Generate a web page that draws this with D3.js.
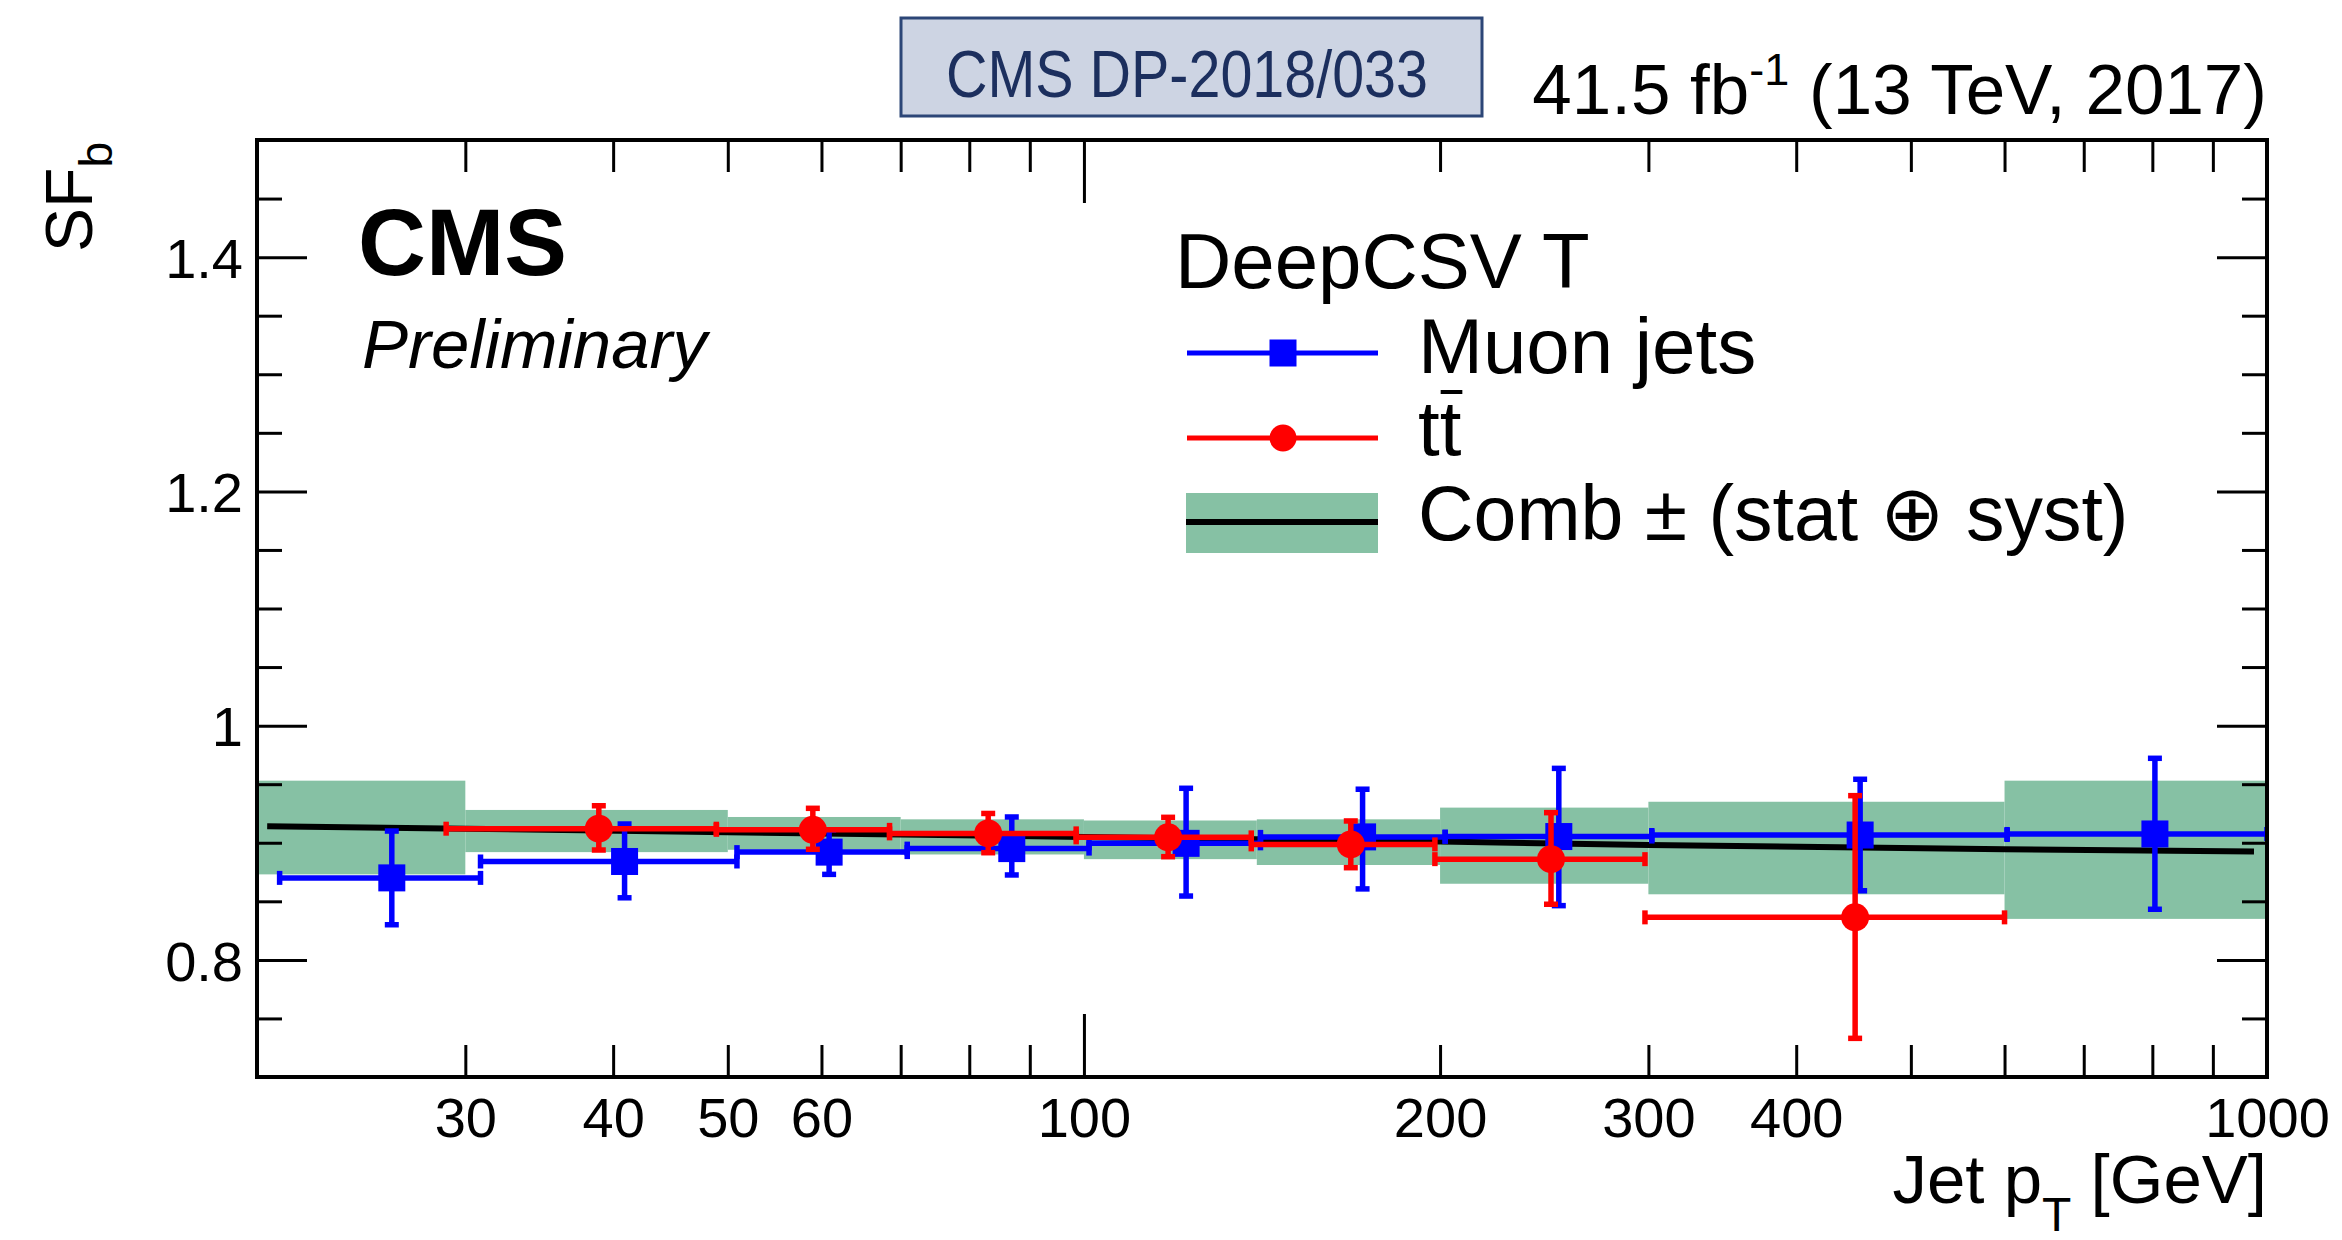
<!DOCTYPE html>
<html>
<head>
<meta charset="utf-8">
<script src="https://cdn.jsdelivr.net/npm/d3@7"></script>
<style>
  body { margin: 0; background: #fff; }
  svg { display: block; }
  text { font-family: "Liberation Sans", Arial, Helvetica, sans-serif; }
</style>
</head>
<body>
<div id="chart"></div>
<script>
var width = 2342;
var height = 1240;

// axis ticks
var xTicks = [30, 40, 50, 60, 70, 80, 90, 100, 200, 300, 400, 500, 600, 700, 800, 900, 1000];
var xLabels = [30, 40, 50, 60, 100, 200, 300, 400, 1000];
var xMajor = [100, 1000];
var yTicks = [0.75, 0.8, 0.85, 0.9, 0.95, 1, 1.05, 1.1, 1.15, 1.2, 1.25, 1.3, 1.35, 1.4, 1.45];
var yMajor = [0.8, 1, 1.2, 1.4];

// combined SF: band per pT bin + fit line
var combEdges = [20, 30, 50, 70, 100, 140, 200, 300, 600, 1000];
var combHi = [0.953, 0.928, 0.922, 0.920, 0.919, 0.920, 0.930, 0.935, 0.953];
var combLo = [0.873, 0.892, 0.894, 0.890, 0.886, 0.881, 0.865, 0.856, 0.835];
var fitPt = [20.4, 30, 50, 70, 100, 140, 200, 300, 600, 975];
var fitSF = [0.914, 0.912, 0.909, 0.907, 0.905, 0.903, 0.901, 0.898, 0.8945, 0.8925];

// muon jets
var muPt   = [26.0, 40.9, 60.9, 86.9, 122, 172, 252, 453, 804];
var muPtLo = [20.9, 30.9, 50.9, 70.9, 101, 141, 202, 302, 603];
var muPtHi = [30.9, 50.9, 70.9, 101, 141, 202, 302, 603, 1000];
var muSF   = [0.870, 0.884, 0.892, 0.895, 0.8995, 0.905, 0.9053, 0.9066, 0.9075];
var muUp   = [0.910, 0.916, 0.911, 0.922, 0.9465, 0.9457, 0.9635, 0.9542, 0.9721];
var muDn   = [0.830, 0.853, 0.873, 0.8725, 0.8545, 0.8606, 0.8463, 0.859, 0.8432];

// ttbar
var ttPt   = [38.9, 59.0, 83.0, 117.8, 168.1, 248.2, 448.6];
var ttPtLo = [28.9, 48.9, 68.5, 98.5, 138.5, 198, 298];
var ttPtHi = [48.9, 68.5, 98.5, 138.5, 198, 298, 600];
var ttSF   = [0.912, 0.911, 0.908, 0.9046, 0.8986, 0.886, 0.8363];
var ttUp   = [0.9316, 0.9294, 0.925, 0.9217, 0.9186, 0.9257, 0.9402];
var ttDn   = [0.8938, 0.8944, 0.8915, 0.8881, 0.8787, 0.8475, 0.733];

var L = 257, R = 2267, T = 140, B = 1077;

var x = d3.scaleLog().domain([20, 1000]).range([L, R]);
var y = d3.scaleLinear().domain([0.7, 1.5]).range([B, T]);

var svg = d3.select("#chart").append("svg")
	.attr("width", width)
	.attr("height", height);

svg.append("defs").append("clipPath").attr("id", "plotclip")
	.append("rect").attr("x", L).attr("y", T).attr("width", R - L).attr("height", B - T);

var plot = svg.append("g").attr("clip-path", "url(#plotclip)");

// green band
plot.selectAll("rect.band")
	.data(combHi)
	.enter()
	.append("rect")
	.attr("x", function (d, i) { return x(combEdges[i]); })
	.attr("width", function (d, i) { return x(combEdges[i + 1]) - x(combEdges[i]); })
	.attr("y", function (d) { return y(d); })
	.attr("height", function (d, i) { return y(combLo[i]) - y(d); })
	.attr("fill", "#86c1a4");

// fit line
var line = d3.line()
	.x(function (d, i) { return x(fitPt[i]); })
	.y(function (d) { return y(d); });
plot.append("path")
	.attr("d", line(fitSF))
	.attr("fill", "none")
	.attr("stroke", "black")
	.attr("stroke-width", 6);

function drawSeries(pt, lo, hi, sf, up, dn, color, marker) {
	var data = pt.map(function (p, i) {
		return { p: p, lo: lo[i], hi: hi[i], v: sf[i], up: up[i], dn: dn[i] };
	});
	var g = plot.append("g");
	var pts = g.selectAll("g").data(data).enter().append("g")
		.attr("stroke", color).attr("stroke-width", 5.5).attr("fill", color);
	pts.append("line") // x error
		.attr("x1", function (d) { return x(d.lo); })
		.attr("x2", function (d) { return x(d.hi); })
		.attr("y1", function (d) { return y(d.v); })
		.attr("y2", function (d) { return y(d.v); });
	pts.append("line") // y error
		.attr("x1", function (d) { return x(d.p); })
		.attr("x2", function (d) { return x(d.p); })
		.attr("y1", function (d) { return y(d.up); })
		.attr("y2", function (d) { return y(d.dn); });
	// end caps
	["lo", "hi"].forEach(function (k) {
		pts.append("line")
			.attr("x1", function (d) { return x(d[k]); })
			.attr("x2", function (d) { return x(d[k]); })
			.attr("y1", function (d) { return y(d.v) - 7; })
			.attr("y2", function (d) { return y(d.v) + 7; });
	});
	["up", "dn"].forEach(function (k) {
		pts.append("line")
			.attr("x1", function (d) { return x(d.p) - 7; })
			.attr("x2", function (d) { return x(d.p) + 7; })
			.attr("y1", function (d) { return y(d[k]); })
			.attr("y2", function (d) { return y(d[k]); });
	});
	if (marker === "square") {
		pts.append("rect")
			.attr("stroke", "none")
			.attr("x", function (d) { return x(d.p) - 13.5; })
			.attr("y", function (d) { return y(d.v) - 13.5; })
			.attr("width", 27).attr("height", 27);
	} else {
		pts.append("circle")
			.attr("stroke", "none")
			.attr("cx", function (d) { return x(d.p); })
			.attr("cy", function (d) { return y(d.v); })
			.attr("r", 14);
	}
}

drawSeries(muPt, muPtLo, muPtHi, muSF, muUp, muDn, "#0000ff", "square");
drawSeries(ttPt, ttPtLo, ttPtHi, ttSF, ttUp, ttDn, "#ff0000", "circle");

// axes
var fontFam = '"Liberation Sans", Arial, Helvetica, sans-serif';

var xBottom = svg.append("g").attr("transform", "translate(0," + B + ")")
	.call(d3.axisBottom(x).tickValues(xTicks).tickSize(-32)
		.tickFormat(function (d) { return xLabels.indexOf(d) >= 0 ? d : ""; }));
xBottom.selectAll(".tick line").attr("y2", function (d) { return xMajor.indexOf(d) >= 0 ? -63 : -32; });
xBottom.selectAll(".tick text").attr("y", 60).attr("dy", null)
	.attr("font-size", 56).attr("font-family", fontFam);

var xTop = svg.append("g").attr("transform", "translate(0," + T + ")")
	.call(d3.axisTop(x).tickValues(xTicks).tickSize(-32).tickFormat(""));
xTop.selectAll(".tick line").attr("y2", function (d) { return xMajor.indexOf(d) >= 0 ? 63 : 32; });

var yLeft = svg.append("g").attr("transform", "translate(" + L + ",0)")
	.call(d3.axisLeft(y).tickValues(yTicks).tickSize(-25)
		.tickFormat(function (d) { return yMajor.indexOf(d) >= 0 ? String(d) : ""; }));
yLeft.selectAll(".tick line").attr("x2", function (d) { return yMajor.indexOf(d) >= 0 ? 50 : 25; });
yLeft.selectAll(".tick text").attr("x", -14).attr("dy", "0.36em")
	.attr("font-size", 56).attr("font-family", fontFam);

var yRight = svg.append("g").attr("transform", "translate(" + R + ",0)")
	.call(d3.axisRight(y).tickValues(yTicks).tickSize(-25).tickFormat(""));
yRight.selectAll(".tick line").attr("x2", function (d) { return yMajor.indexOf(d) >= 0 ? -50 : -25; });

[xBottom, xTop, yLeft, yRight].forEach(function (a) {
	a.select(".domain").remove();
	a.selectAll(".tick line").attr("stroke", "black").attr("stroke-width", 3);
});

// frame
svg.append("rect")
	.attr("x", L).attr("y", T).attr("width", R - L).attr("height", B - T)
	.attr("fill", "none").attr("stroke", "black").attr("stroke-width", 4);

// axis titles
var yTitle = svg.append("text")
	.attr("transform", "translate(92,142) rotate(-90)")
	.attr("text-anchor", "end")
	.attr("font-size", 66);
yTitle.append("tspan").text("SF");
yTitle.append("tspan").attr("dy", 20).attr("font-size", 46).text("b");

var xTitle = svg.append("text")
	.attr("x", R).attr("y", 1203)
	.attr("text-anchor", "end")
	.attr("font-size", 69);
xTitle.append("tspan").text("Jet p");
xTitle.append("tspan").attr("dy", 28).attr("font-size", 48).text("T");
xTitle.append("tspan").attr("dy", -28).text(" [GeV]");

// CMS labels
svg.append("text").attr("x", 358).attr("y", 275)
	.attr("font-size", 94).attr("font-weight", "bold").text("CMS");
svg.append("text").attr("x", 362).attr("y", 368)
	.attr("font-size", 69).attr("font-style", "italic").text("Preliminary");

// lumi
var lumi = svg.append("text").attr("x", R).attr("y", 114)
	.attr("text-anchor", "end").attr("font-size", 71);
lumi.append("tspan").text("41.5 fb");
lumi.append("tspan").attr("dy", -29).attr("font-size", 45).text("-1");
lumi.append("tspan").attr("dy", 29).text(" (13 TeV, 2017)");

// DP box
svg.append("rect").attr("x", 901).attr("y", 18).attr("width", 581).attr("height", 98)
	.attr("fill", "#cdd4e3").attr("stroke", "#2c4677").attr("stroke-width", 3);
svg.append("text").attr("x", 946).attr("y", 97)
	.attr("font-family", '"Open Sans", "Noto Sans", sans-serif')
	.attr("font-size", 66).attr("fill", "#1c2f5e")
	.attr("textLength", 482).attr("lengthAdjust", "spacingAndGlyphs")
	.text("CMS DP-2018/033");

// legend
var leg = svg.append("g");
leg.append("text").attr("x", 1175).attr("y", 288).attr("font-size", 78).text("DeepCSV T");

leg.append("line").attr("x1", 1187).attr("x2", 1378).attr("y1", 353).attr("y2", 353)
	.attr("stroke", "#0000ff").attr("stroke-width", 5);
leg.append("rect").attr("x", 1283 - 13.5).attr("y", 353 - 13.5).attr("width", 27).attr("height", 27)
	.attr("fill", "#0000ff");
leg.append("text").attr("x", 1418).attr("y", 373).attr("font-size", 78).text("Muon jets");

leg.append("line").attr("x1", 1187).attr("x2", 1378).attr("y1", 438).attr("y2", 438)
	.attr("stroke", "#ff0000").attr("stroke-width", 5);
leg.append("circle").attr("cx", 1283).attr("cy", 438).attr("r", 13.5).attr("fill", "#ff0000");
var ttText = leg.append("text").attr("x", 1418).attr("y", 455).attr("font-size", 78).text("tt");
var tNode = ttText.node();
var bx0 = tNode.getStartPositionOfChar(1).x;
var bw = tNode.getSubStringLength(1, 1);
leg.append("line").attr("x1", bx0 + 1).attr("x2", bx0 + bw + 1)
	.attr("y1", 455 - 63).attr("y2", 455 - 63)
	.attr("stroke", "black").attr("stroke-width", 4);

leg.append("rect").attr("x", 1186).attr("y", 493).attr("width", 192).attr("height", 60)
	.attr("fill", "#86c1a4");
leg.append("line").attr("x1", 1186).attr("x2", 1378).attr("y1", 522).attr("y2", 522)
	.attr("stroke", "black").attr("stroke-width", 6);
leg.append("text").attr("x", 1418).attr("y", 540).attr("font-size", 77)
	.text("Comb \u00b1 (stat \u2295 syst)");
</script>
</body>
</html>
